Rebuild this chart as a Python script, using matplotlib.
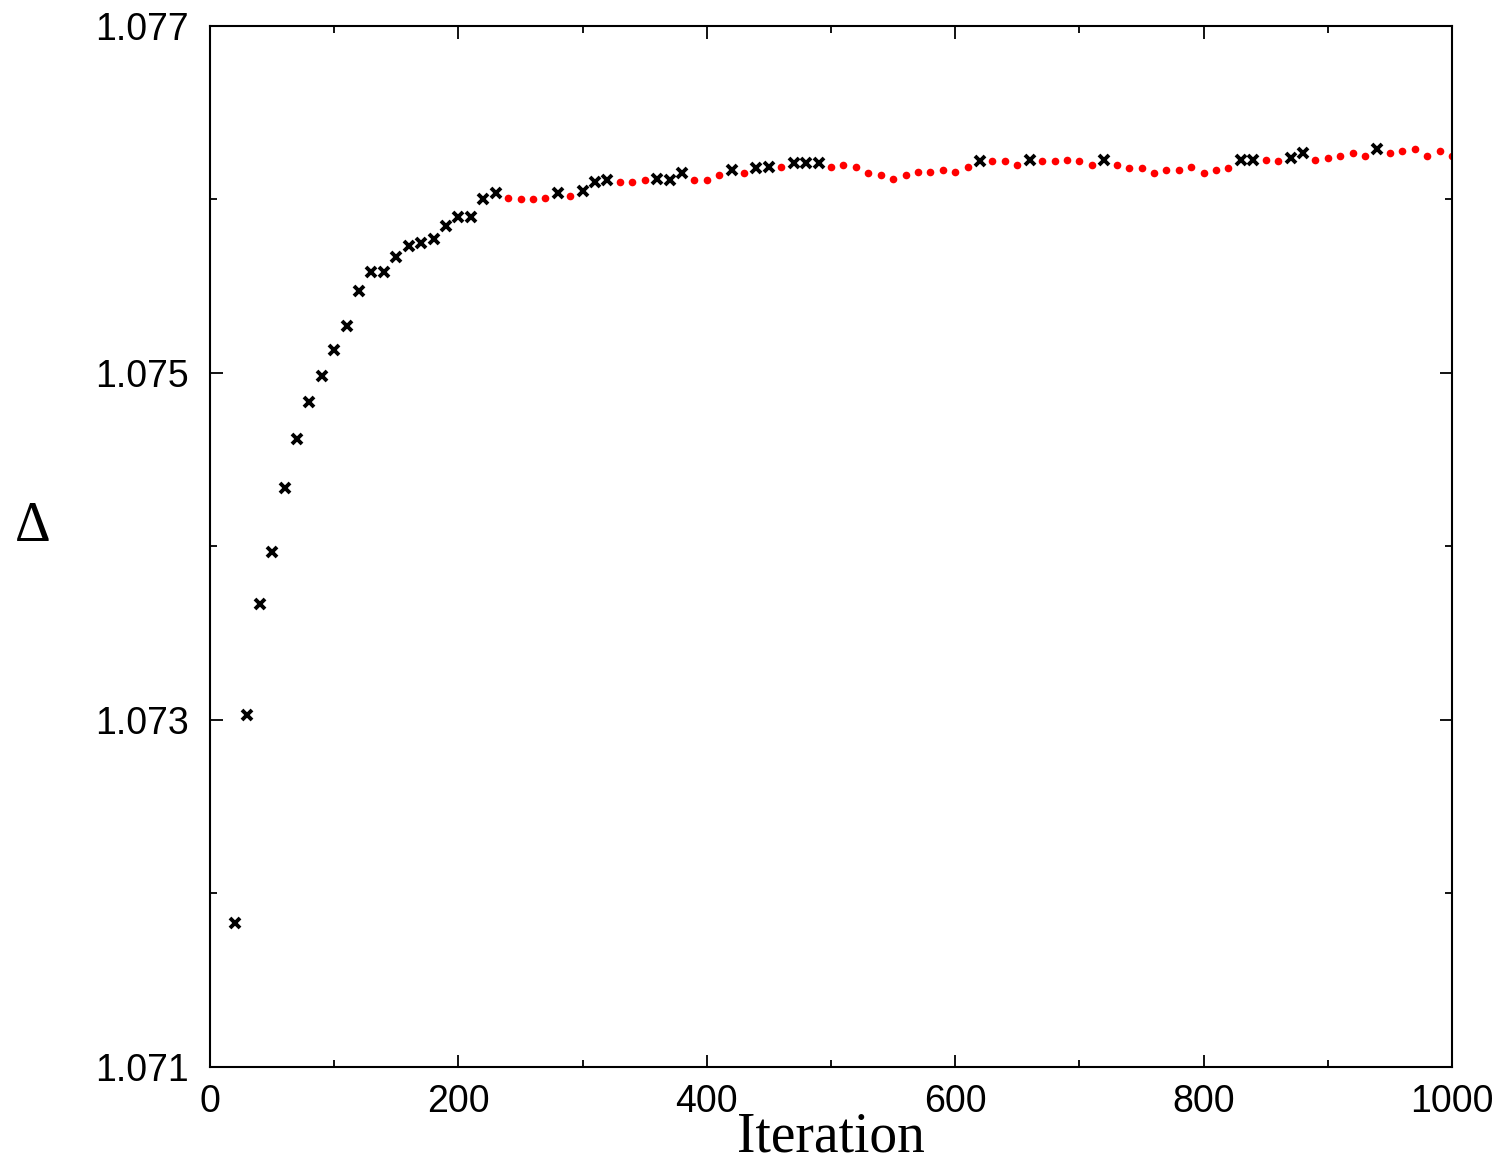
import numpy as np
import matplotlib
matplotlib.use('Agg')
import matplotlib.pyplot as plt
from matplotlib.ticker import MultipleLocator, FixedLocator, FormatStrFormatter


# data (iteration, Delta, marker kind)
iterations = list(range(20, 1001, 10))
delta = [
    1.07183, 1.07303, 1.07367, 1.07397, 1.07434, 1.07462, 1.07483, 1.07498,
    1.07513, 1.07527, 1.07547, 1.07558, 1.07558, 1.07567, 1.07573, 1.07575,
    1.07577, 1.07585, 1.07590, 1.07590, 1.07600, 1.07604, 1.07601, 1.07600,
    1.07600, 1.07601, 1.07604, 1.07602, 1.07605, 1.07610, 1.07611, 1.07610,
    1.07610, 1.07611, 1.07612, 1.07611, 1.07615, 1.07611, 1.07611, 1.07614,
    1.07617, 1.07615, 1.07618, 1.07619, 1.07619, 1.07621, 1.07621, 1.07621,
    1.07619, 1.07620, 1.07619, 1.07615, 1.07614, 1.07612, 1.07614, 1.07616,
    1.07616, 1.07617, 1.07616, 1.07619, 1.07622, 1.07622, 1.07622, 1.07620,
    1.07623, 1.07622, 1.07622, 1.07623, 1.07622, 1.07620, 1.07623, 1.07620,
    1.07618, 1.07618, 1.07615, 1.07617, 1.07617, 1.07619, 1.07615, 1.07617,
    1.07618, 1.07623, 1.07623, 1.07623, 1.07622, 1.07624, 1.07627, 1.07623,
    1.07624, 1.07625, 1.07627, 1.07625, 1.07629, 1.07627, 1.07628, 1.07629,
    1.07625, 1.07628, 1.07625,
]
# iterations drawn with a black cross (the rest are red dots)
cross_iters = list(range(20, 231, 10)) + [
    280, 300, 310, 320, 360, 370, 380, 420, 440, 450, 470, 480, 490,
    620, 660, 720, 830, 840, 870, 880, 940,
]
y_major = [1.071, 1.073, 1.075, 1.077]
y_minor = [1.072, 1.074, 1.076]


def main():
    it = np.array(iterations)
    d = np.array(delta)
    is_cross = np.isin(it, cross_iters)

    fig = plt.figure(figsize=(14.99, 11.65), dpi=100)
    ax = fig.add_axes([210 / 1499, 1 - 1067 / 1165, 1242 / 1499, 1041 / 1165])

    ax.plot(it[~is_cross], d[~is_cross], 'o', color='#ff0000', ms=5.5, mew=0)
    ax.plot(it[is_cross], d[is_cross], 'x', color='black', ms=7.5, mew=2.8)

    ax.set_xlim(0, 1000)
    ax.set_ylim(1.071, 1.077)
    ax.xaxis.set_major_locator(MultipleLocator(200))
    ax.xaxis.set_minor_locator(MultipleLocator(100))
    ax.yaxis.set_major_locator(FixedLocator(y_major))
    ax.yaxis.set_minor_locator(FixedLocator(y_minor))
    ax.yaxis.set_major_formatter(FormatStrFormatter('%.3f'))

    for s in ax.spines.values():
        s.set_linewidth(1.5)
    ax.tick_params(which='both', direction='in', top=True, right=True, width=1.3)
    ax.tick_params(which='major', length=9)
    ax.tick_params(which='minor', length=5)
    ax.tick_params(axis='x', pad=12)
    ax.tick_params(axis='y', pad=15)
    for lab in ax.get_xticklabels() + ax.get_yticklabels():
        lab.set_fontfamily('Liberation Sans')
        lab.set_fontsize(27)

    ax.set_xlabel('Iteration', family='Liberation Serif', fontsize=40)
    ax.xaxis.set_label_coords(0.5, -0.068)
    ax.xaxis.label.set_va('center')
    ax.set_ylabel('Δ', family='Liberation Serif', fontsize=40, rotation=0)
    ax.yaxis.set_label_coords(-0.1425, 0.519)
    ax.yaxis.label.set_va('center')
    ax.yaxis.label.set_ha('center')

    fig.savefig('out.png', dpi=100)


if __name__ == '__main__':
    main()
